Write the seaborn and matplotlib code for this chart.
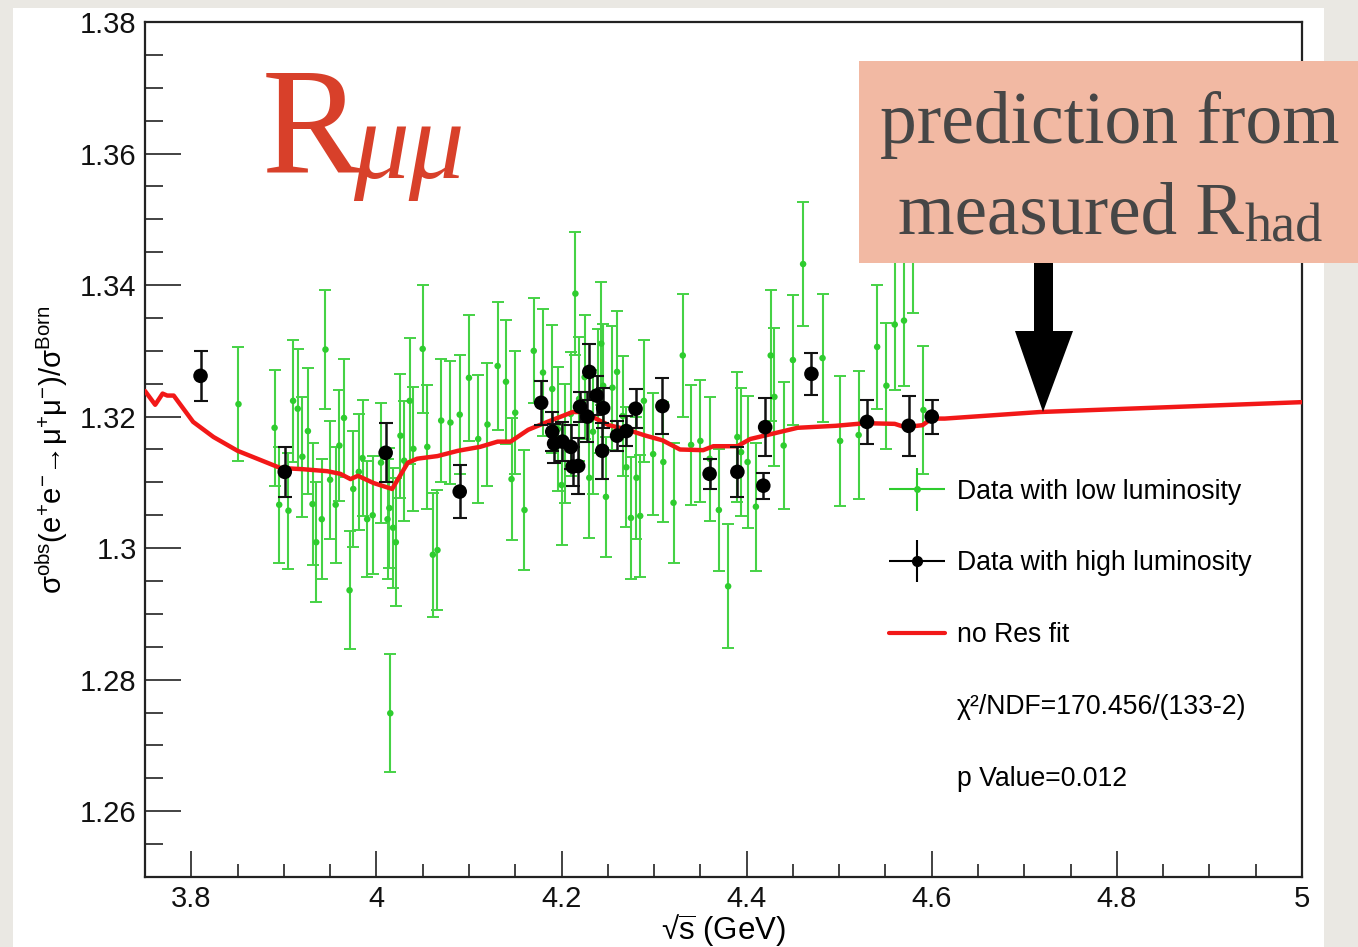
import numpy as np
import pandas as pd
import matplotlib
matplotlib.use("Agg")
import matplotlib.pyplot as plt
import seaborn as sns
from matplotlib.patches import Rectangle, Polygon
from matplotlib.lines import Line2D
from matplotlib.collections import LineCollection
from matplotlib.legend_handler import HandlerErrorbar
from matplotlib.container import ErrorbarContainer
from matplotlib.ticker import MultipleLocator, FuncFormatter

# ---------------- data ----------------
low_x = [3.851, 3.890, 3.895, 3.905, 3.910, 3.915, 3.920, 3.926, 3.931, 3.935,
         3.941, 3.945, 3.950, 3.956, 3.960, 3.965, 3.971, 3.975, 3.981, 3.985,
         3.990, 3.996, 4.005, 4.012, 4.014, 4.018, 4.021, 4.015, 4.026, 4.030,
         4.036, 4.040, 4.050, 4.055, 4.061, 4.066, 4.070, 4.080, 4.090, 4.100,
         4.110, 4.120, 4.131, 4.140, 4.146, 4.150, 4.160, 4.170, 4.180, 4.190,
         4.196, 4.200, 4.204, 4.210, 4.215, 4.219, 4.225, 4.230, 4.234, 4.239,
         4.243, 4.245, 4.248, 4.255, 4.260, 4.266, 4.270, 4.275, 4.281, 4.285,
         4.289, 4.299, 4.310, 4.321, 4.331, 4.340, 4.350, 4.360, 4.370, 4.380,
         4.390, 4.394, 4.401, 4.410, 4.426, 4.430, 4.440, 4.450, 4.461, 4.482,
         4.501, 4.521, 4.541, 4.551, 4.560, 4.570, 4.580, 4.591]
low_y = [1.3219, 1.3183, 1.3066, 1.3057, 1.3224, 1.3212, 1.3139, 1.3178, 1.3067, 1.3009,
         1.3044, 1.3302, 1.3104, 1.3066, 1.3156, 1.3198, 1.2936, 1.3090, 1.3116, 1.3137,
         1.3044, 1.3050, 1.3130, 1.3044, 1.3061, 1.3031, 1.3009, 1.2749, 1.3171, 1.3133,
         1.3224, 1.3151, 1.3303, 1.3154, 1.2990, 1.2997, 1.3194, 1.3191, 1.3203, 1.3259,
         1.3166, 1.3188, 1.3277, 1.3253, 1.3105, 1.3206, 1.3058, 1.3300, 1.3267, 1.3242,
         1.3181, 1.3096, 1.3159, 1.3204, 1.3387, 1.3227, 1.3260, 1.3107, 1.3177, 1.3239,
         1.3311, 1.3247, 1.3078, 1.3244, 1.3268, 1.3201, 1.3123, 1.3046, 1.3107, 1.3049,
         1.3224, 1.3143, 1.3131, 1.3069, 1.3293, 1.3157, 1.3163, 1.3136, 1.3058, 1.2942,
         1.3169, 1.3146, 1.3131, 1.3063, 1.3293, 1.3230, 1.3156, 1.3286, 1.3432, 1.3289,
         1.3163, 1.3172, 1.3306, 1.3247, 1.3340, 1.3346, 1.3454, 1.3210]
low_err = [0.0087, 0.0088, 0.0088, 0.0088, 0.0093, 0.0091, 0.0091, 0.0096, 0.0093, 0.0091,
           0.0091, 0.0091, 0.0090, 0.0088, 0.0085, 0.0090, 0.0090, 0.0088, 0.0088, 0.0088,
           0.0088, 0.0090, 0.0091, 0.0091, 0.0091, 0.0091, 0.0097, 0.0090, 0.0094, 0.0091,
           0.0096, 0.0094, 0.0097, 0.0094, 0.0094, 0.0091, 0.0094, 0.0093, 0.0091, 0.0096,
           0.0097, 0.0093, 0.0097, 0.0094, 0.0093, 0.0094, 0.0091, 0.0080, 0.0097, 0.0097,
           0.0094, 0.0091, 0.0091, 0.0094, 0.0094, 0.0094, 0.0094, 0.0091, 0.0094, 0.0094,
           0.0093, 0.0094, 0.0091, 0.0094, 0.0093, 0.0091, 0.0091, 0.0093, 0.0093, 0.0093,
           0.0093, 0.0093, 0.0091, 0.0091, 0.0093, 0.0091, 0.0093, 0.0094, 0.0093, 0.0094,
           0.0099, 0.0097, 0.0100, 0.0097, 0.0099, 0.0105, 0.0097, 0.0099, 0.0094, 0.0097,
           0.0099, 0.0097, 0.0094, 0.0096, 0.0099, 0.0099, 0.0096, 0.0097]

high_x = [3.810, 3.901, 4.010, 4.090, 4.178, 4.190, 4.192, 4.201, 4.210, 4.212,
          4.220, 4.218, 4.230, 4.228, 4.238, 4.245, 4.244, 4.260, 4.270, 4.280,
          4.309, 4.360, 4.390, 4.420, 4.418, 4.470, 4.530, 4.575, 4.600]
high_y = [1.3262, 1.3116, 1.3145, 1.3086, 1.3221, 1.3177, 1.3159, 1.3162, 1.3154, 1.3124,
          1.3215, 1.3125, 1.3268, 1.3200, 1.3232, 1.3213, 1.3148, 1.3171, 1.3178, 1.3212,
          1.3216, 1.3113, 1.3116, 1.3184, 1.3095, 1.3265, 1.3192, 1.3186, 1.3200]
high_err = [0.0038, 0.0038, 0.0045, 0.0040, 0.0033, 0.0030, 0.0030, 0.0030, 0.0033, 0.0030,
            0.0023, 0.0043, 0.0043, 0.0038, 0.0030, 0.0030, 0.0043, 0.0023, 0.0023, 0.0030,
            0.0043, 0.0023, 0.0038, 0.0044, 0.0020, 0.0032, 0.0034, 0.0046, 0.0026]

fit_x = [3.750, 3.761, 3.769, 3.774, 3.781, 3.802, 3.824, 3.850, 3.896, 3.921,
         3.947, 3.961, 3.972, 3.980, 3.997, 4.017, 4.034, 4.044, 4.066, 4.088,
         4.112, 4.131, 4.145, 4.164, 4.183, 4.212, 4.220, 4.233, 4.251, 4.269,
         4.291, 4.309, 4.328, 4.353, 4.364, 4.390, 4.404, 4.422, 4.440, 4.455,
         4.496, 4.528, 4.560, 4.571, 4.590, 4.600, 4.614, 4.717, 5.000]
fit_y = [1.3239, 1.3218, 1.3235, 1.3232, 1.3232, 1.3192, 1.3169, 1.3148, 1.3122, 1.3120,
         1.3117, 1.3113, 1.3105, 1.3110, 1.3099, 1.3090, 1.3130, 1.3136, 1.3140, 1.3148,
         1.3154, 1.3162, 1.3162, 1.3180, 1.3191, 1.3207, 1.3207, 1.3200, 1.3187, 1.3181,
         1.3171, 1.3164, 1.3150, 1.3149, 1.3155, 1.3155, 1.3166, 1.3172, 1.3178, 1.3183,
         1.3186, 1.3190, 1.3189, 1.3184, 1.3187, 1.3197, 1.3197, 1.3207, 1.3222]

legend_labels = ["Data with low luminosity", "Data with high luminosity", "no Res fit",
                 "\u03c7\u00b2/NDF=170.456/(133-2)", "p Value=0.012"]

low_df = pd.DataFrame({"x": low_x, "y": low_y, "err": low_err})
high_df = pd.DataFrame({"x": high_x, "y": high_y, "err": high_err})
fit_df = pd.DataFrame({"x": fit_x, "y": fit_y})

GREEN = "#2ECC2E"
GREEN_BAR = "#45D245"
RED = "#F21818"

# ---------------- style ----------------
sns.set_theme(style="ticks")
plt.rcParams["font.family"] = ["Liberation Sans", "DejaVu Sans"]
plt.rcParams["mathtext.fontset"] = "custom"
plt.rcParams["mathtext.rm"] = "Liberation Sans"
plt.rcParams["mathtext.it"] = "Liberation Sans:italic"
plt.rcParams["mathtext.bf"] = "Liberation Sans:bold"
plt.rcParams["mathtext.default"] = "regular"
plt.rcParams["text.color"] = "black"
plt.rcParams["axes.labelcolor"] = "black"
plt.rcParams["xtick.color"] = "#222222"
plt.rcParams["ytick.color"] = "#222222"
plt.rcParams["xtick.labelcolor"] = "#111111"
plt.rcParams["ytick.labelcolor"] = "#111111"

W, H = 1358, 947
fig = plt.figure(figsize=(W / 100, H / 100), dpi=100)
fig.patch.set_facecolor("#EAE8E3")
fig.add_artist(Rectangle((13 / W, 0), (1324 - 13) / W, (H - 8) / H, transform=fig.transFigure,
                         facecolor="white", edgecolor="none", zorder=-10))

ax = fig.add_axes([145 / W, 70 / H, (1302 - 145) / W, 855 / H])
ax.set_facecolor("white")

# data
ax.errorbar(low_df["x"], low_df["y"], yerr=low_df["err"], fmt="none", ecolor=GREEN_BAR,
            elinewidth=1.5, capsize=4, capthick=1.4, zorder=2)
sns.scatterplot(data=low_df, x="x", y="y", color=GREEN, s=22, edgecolor="none",
                ax=ax, zorder=2.5, legend=False)
sns.lineplot(data=fit_df, x="x", y="y", color=RED, lw=3.2, ax=ax, sort=False,
             estimator=None, zorder=3)
ax.errorbar(high_df["x"], high_df["y"], yerr=high_df["err"], fmt="none", ecolor="#111111",
            elinewidth=1.8, capsize=5, capthick=1.5, zorder=4)
sns.scatterplot(data=high_df, x="x", y="y", color="black", s=110, edgecolor="none",
                ax=ax, zorder=5, legend=False)

# axes
ax.set_xlim(3.75, 5.0)
ax.set_ylim(1.25, 1.38)
ax.xaxis.set_major_locator(MultipleLocator(0.2))
ax.xaxis.set_minor_locator(MultipleLocator(0.05))
ax.yaxis.set_major_locator(MultipleLocator(0.02))
ax.yaxis.set_minor_locator(MultipleLocator(0.005))
fmt = FuncFormatter(lambda v, p: f"{v:g}")
ax.xaxis.set_major_formatter(fmt)
ax.yaxis.set_major_formatter(fmt)
ax.tick_params(axis="both", which="both", direction="in", top=False, right=False)
ax.tick_params(axis="y", which="major", length=26, width=1.2, pad=6, labelsize=21)
ax.tick_params(axis="y", which="minor", length=13, width=1.2)
ax.tick_params(axis="x", which="major", length=19, width=1.2, pad=6, labelsize=21)
ax.tick_params(axis="x", which="minor", length=9.5, width=1.2)
for s in ax.spines.values():
    s.set_linewidth(1.6)
    s.set_color("#222222")

ax.set_xlabel("\u221a$\\overline{s}$ (GeV)", fontsize=22.5, labelpad=-1)
ax.set_ylabel("$\\sigma^{obs}(e^{+}e^{-}$\u2192$\\mu^{+}\\mu^{-})/\\sigma^{Born}$",
              fontsize=21, labelpad=7)

# legend
def proxy(color, ms):
    ln = Line2D([], [], color=color, marker="o", ms=ms, linestyle="none")
    bx = LineCollection([], colors=[color], linewidths=[1.5])
    by = LineCollection([], colors=[color], linewidths=[1.5])
    return ErrorbarContainer((ln, (), (bx, by)), has_xerr=True, has_yerr=True)

h_low = proxy(GREEN, 4)
h_high = proxy("black", 7)
h_fit = Line2D([], [], color=RED, lw=3)
h_blank = Line2D([], [], linestyle="none")
ax.legend([h_low, h_high, h_fit, h_blank, h_blank], legend_labels,
          handler_map={ErrorbarContainer: HandlerErrorbar(xerr_size=1.05, yerr_size=0.8)},
          loc="upper left", bbox_to_anchor=(0.643, 0.466), frameon=False,
          fontsize=19.2, handlelength=2.1, handletextpad=0.45, labelspacing=1.72,
          borderpad=0, borderaxespad=0)

# annotations
SERIF = ["Liberation Serif", "DejaVu Serif"]
RC = "#D8402A"
r_txt = fig.text(262 / W, 1 - 172 / H, "R", family=SERIF, fontsize=108, color=RC,
                 ha="left", va="baseline")
fig.add_artist(Rectangle((859 / W, 1 - 263 / H), (W - 859) / W, (263 - 61) / H,
                         transform=fig.transFigure, facecolor="#F2B9A3",
                         edgecolor="none", zorder=2.5))
TC = "#464646"
fig.text(880 / W, 1 - 143 / H, "prediction from", family=SERIF, fontsize=53, color=TC,
         ha="left", va="baseline", zorder=4)
m_txt = fig.text(898 / W, 1 - 233 / H, "measured R", family=SERIF, fontsize=52.5, color=TC,
                 ha="left", va="baseline", zorder=4)
fig.canvas.draw()
ren = fig.canvas.get_renderer()
rb = r_txt.get_window_extent(ren)
fig.text((rb.x1 - 9) / W, 1 - 178 / H, "\u03bc\u03bc", family=SERIF, style="italic",
         fontsize=80, color=RC, ha="left", va="baseline")
mb = m_txt.get_window_extent(ren)
fig.text((mb.x1 + 1) / W, 1 - 241 / H, "had", family=SERIF, fontsize=39, color=TC,
         ha="left", va="baseline", zorder=4)

arrow_px = [(1034, 263), (1053, 263), (1053, 331), (1073, 331), (1043, 412),
            (1015, 331), (1034, 331)]
fig.add_artist(Polygon([(x / W, 1 - y / H) for x, y in arrow_px], closed=True,
                       transform=fig.transFigure, facecolor="black",
                       edgecolor="none", zorder=3))

fig.savefig("out.png", dpi=100, facecolor=fig.get_facecolor())
